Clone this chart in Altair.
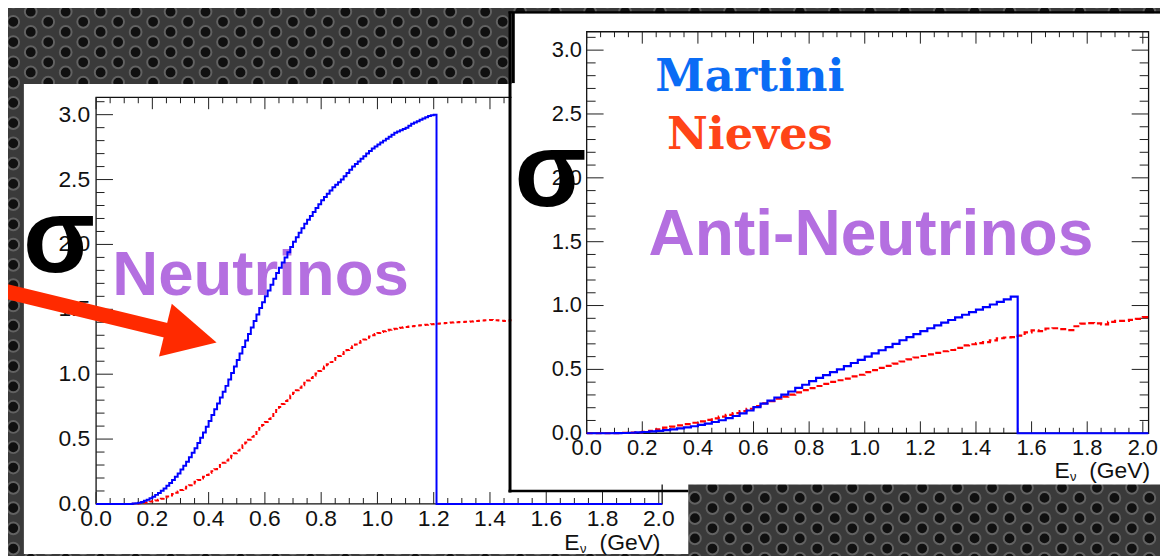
import altair as alt
import pandas as pd

W, H = 1160, 548

# ---------------- data ----------------
LEFT_BIN = 0.01   # GeV, neutrino panel
left_martini = [
    0, 0, 0, 0, 0, 0, 0, 0, 0, 0, 0, 0, 0,
    0.003, 0.006, 0.010, 0.016, 0.024, 0.033, 0.044, 0.056, 0.070, 0.085,
    0.102, 0.120, 0.140, 0.162, 0.185, 0.210, 0.235, 0.265, 0.295, 0.325,
    0.360, 0.395, 0.430, 0.470, 0.510, 0.550, 0.595, 0.640, 0.685, 0.730,
    0.775, 0.820, 0.865, 0.910, 0.960, 1.010, 1.060, 1.110, 1.160, 1.210,
    1.260, 1.310, 1.360, 1.410, 1.460, 1.510, 1.555, 1.600, 1.645, 1.690,
    1.735, 1.780, 1.820, 1.860, 1.900, 1.940, 1.980, 2.020, 2.055, 2.090,
    2.125, 2.160, 2.190, 2.220, 2.250, 2.280, 2.310, 2.340, 2.365, 2.390,
    2.415, 2.440, 2.460, 2.480, 2.500, 2.525, 2.550, 2.575, 2.600, 2.620,
    2.640, 2.660, 2.680, 2.700, 2.720, 2.740, 2.755, 2.770, 2.785, 2.800,
    2.815, 2.830, 2.845, 2.860, 2.870, 2.880, 2.890, 2.900, 2.915, 2.930,
    2.940, 2.950, 2.960, 2.970, 2.980, 2.990, 2.995, 3.000,
]
left_nieves = [
    0, 0, 0, 0, 0, 0, 0, 0, 0, 0, 0, 0, 0,
    0.002, 0.004, 0.006, 0.008, 0.011, 0.014, 0.018, 0.022, 0.027, 0.033,
    0.040, 0.048, 0.057, 0.066, 0.076, 0.086, 0.097, 0.108, 0.120, 0.132,
    0.145, 0.158, 0.171, 0.184, 0.197, 0.210, 0.224, 0.238, 0.253, 0.268,
    0.284, 0.300, 0.317, 0.335, 0.353, 0.372, 0.391, 0.411, 0.431, 0.452,
    0.473, 0.495, 0.517, 0.540, 0.563, 0.586, 0.609, 0.632, 0.655, 0.678,
    0.701, 0.724, 0.747, 0.770, 0.793, 0.815, 0.836, 0.857, 0.877, 0.896,
    0.915, 0.934, 0.952, 0.970, 0.988, 1.006, 1.024, 1.042, 1.059, 1.076,
    1.093, 1.109, 1.125, 1.141, 1.156, 1.171, 1.186, 1.201, 1.215, 1.229,
    1.243, 1.256, 1.268, 1.280, 1.291, 1.301, 1.310, 1.318, 1.325, 1.331,
    1.337, 1.342, 1.347, 1.351, 1.355, 1.358, 1.361, 1.364, 1.367, 1.370,
    1.372, 1.375, 1.377, 1.379, 1.381, 1.383, 1.385, 1.387, 1.389, 1.391,
    1.393, 1.395, 1.397, 1.399, 1.400, 1.401, 1.402, 1.403, 1.404, 1.405,
    1.406, 1.408, 1.410, 1.412, 1.414, 1.416, 1.417, 1.418, 1.417, 1.415,
    1.413, 1.411, 1.410, 1.412, 1.415, 1.418, 1.420,
]
RIGHT_BIN = 0.025  # GeV, anti-neutrino panel
right_martini = [
    0, 0, 0, 0, 0.001, 0.002, 0.004, 0.007, 0.010, 0.014, 0.019, 0.025,
    0.031, 0.038, 0.046, 0.055, 0.065, 0.076, 0.088, 0.102, 0.118, 0.135,
    0.155, 0.178, 0.205, 0.232, 0.256, 0.280, 0.302, 0.327, 0.355, 0.380,
    0.408, 0.433, 0.455, 0.478, 0.500, 0.525, 0.550, 0.575, 0.600, 0.625,
    0.650, 0.675, 0.700, 0.728, 0.752, 0.776, 0.800, 0.822, 0.845, 0.866,
    0.887, 0.908, 0.928, 0.948, 0.968, 0.988, 1.008, 1.028, 1.048, 1.070,
]
right_nieves = [
    0, 0, 0, 0, 0.001, 0.003, 0.005, 0.007, 0.011, 0.018, 0.030, 0.044,
    0.052, 0.062, 0.072, 0.082, 0.093, 0.105, 0.117, 0.130, 0.144, 0.158,
    0.173, 0.192, 0.213, 0.235, 0.252, 0.270, 0.287, 0.303, 0.320, 0.337,
    0.354, 0.370, 0.387, 0.403, 0.415, 0.428, 0.445, 0.458, 0.478, 0.495,
    0.512, 0.528, 0.545, 0.562, 0.578, 0.593, 0.605, 0.617, 0.630, 0.642,
    0.652, 0.668, 0.688, 0.697, 0.705, 0.714, 0.727, 0.744, 0.750, 0.752,
    0.765, 0.790, 0.806, 0.800, 0.820, 0.822, 0.815, 0.808, 0.838, 0.858,
    0.862, 0.860, 0.852, 0.872, 0.880, 0.880, 0.888, 0.895, 0.910,
]

x_major_ticks = [0.0, 0.2, 0.4, 0.6, 0.8, 1.0, 1.2, 1.4, 1.6, 1.8, 2.0]
x_major_labels = ["0.0", "0.2", "0.4", "0.6", "0.8", "1.0", "1.2", "1.4", "1.6", "1.8", "2.0"]
y_major_ticks = [0.0, 0.5, 1.0, 1.5, 2.0, 2.5, 3.0]
y_major_labels = ["0.0", "0.5", "1.0", "1.5", "2.0", "2.5", "3.0"]
x_minor_ticks = [round(0.05 * i, 2) for i in range(41) if i % 4]
y_minor_ticks = [round(0.1 * i, 1) for i in range(32) if i % 5]

TXT_NU = "Neutrinos"
TXT_ANU = "Anti-Neutrinos"
TXT_MARTINI = "Martini"
TXT_NIEVES = "Nieves"
TXT_SIGMA = "σ"

# ---------------- styles ----------------
FONT = "Liberation Sans"
PURPLE = "#b46fe0"
BLUE = "#0000ff"
RED = "#ff0000"
TICK = "#1e1e1e"
ONE = pd.DataFrame({"a": [1]})


def step_df(values, bw, tail):
    rows = [{"E": round(i * bw, 4), "s": v} for i, v in enumerate(values)]
    rows += [{"E": e, "s": s} for e, s in tail]
    return pd.DataFrame(rows)


def deco_rect(x, x2, y, y2, **kw):
    return alt.Chart(ONE).mark_rect(**kw).encode(
        x=alt.value(x), x2=alt.value(x2), y=alt.value(y), y2=alt.value(y2))


def deco_text(text, x, y, **kw):
    return alt.Chart(ONE).mark_text(text=text, **kw).encode(x=alt.value(x), y=alt.value(y))


def xticks(vals, sc, y0, length):
    return alt.Chart(pd.DataFrame({"v": vals})).mark_rule(color=TICK, strokeWidth=1).encode(
        x=alt.X("v:Q", scale=sc, axis=None), y=alt.value(y0), y2=alt.value(y0 + length))


def yticks(vals, sc, x0, length):
    return alt.Chart(pd.DataFrame({"v": vals})).mark_rule(color=TICK, strokeWidth=1).encode(
        y=alt.Y("v:Q", scale=sc, axis=None), x=alt.value(x0), x2=alt.value(x0 + length))


def panel(sc_x, sc_y, frame, tl, fs, xlab_base, ylab_right):
    """frame = (left, right, top, bottom) pixels; tl = (xmaj, xmin, ymaj, ymin) tick lengths"""
    L, R, T, B = frame
    xmaj, xmin, ymaj, ymin = tl
    layers = [
        deco_rect(L, R, T, B, fillOpacity=0, stroke="#111111", strokeWidth=1.3),
        xticks(x_major_ticks, sc_x, B, -xmaj), xticks(x_minor_ticks, sc_x, B, -xmin),
        xticks(x_major_ticks, sc_x, T, xmaj), xticks(x_minor_ticks, sc_x, T, xmin),
        yticks(y_major_ticks, sc_y, L, ymaj), yticks(y_minor_ticks, sc_y, L, ymin),
        yticks(y_major_ticks, sc_y, R, -ymaj), yticks(y_minor_ticks, sc_y, R, -ymin),
    ]
    xl = alt.Chart(pd.DataFrame({"v": x_major_ticks, "lab": x_major_labels})).mark_text(
        font=FONT, fontSize=fs, color="#111111", align="center", baseline="alphabetic").encode(
        x=alt.X("v:Q", scale=sc_x, axis=None), y=alt.value(xlab_base), text="lab:N")
    yl = alt.Chart(pd.DataFrame({"v": y_major_ticks, "lab": y_major_labels})).mark_text(
        font=FONT, fontSize=fs, color="#111111", align="right", baseline="middle").encode(
        y=alt.Y("v:Q", scale=sc_y, axis=None), x=alt.value(ylab_right), text="lab:N")
    return layers, [xl, yl]


def hist_line(df, sc_x, sc_y, color, width, dash=None):
    kw = dict(interpolate="step-after", color=color, strokeWidth=width, strokeCap="butt")
    if dash:
        kw["strokeDash"] = dash
    return alt.Chart(df).mark_line(**kw).encode(
        x=alt.X("E:Q", scale=sc_x, axis=None), y=alt.Y("s:Q", scale=sc_y, axis=None))


# ---------------- background texture (speaker grille) ----------------
pts = []
for k in range(-1, 68):
    off = 10.2 if k % 2 else 0.0
    for j in range(-1, 29):
        pts.append({"px": 13.3 + 17.6 * k - 8, "py": 20 + 20.4 * j - off - 8})
PX = alt.Scale(domain=[0, W], range=[0, W], nice=False, zero=False)
PY = alt.Scale(domain=[0, H], range=[0, H], nice=False, zero=False)
texture = alt.Chart(pd.DataFrame(pts)).mark_circle(
    size=140, fill="#101010", stroke="#626262", strokeWidth=2, opacity=1).encode(
    x=alt.X("px:Q", scale=PX, axis=None), y=alt.Y("py:Q", scale=PY, axis=None))

# ---------------- left (neutrino) panel ----------------
LX = alt.Scale(domain=[0, 2.012], range=[88.7, 658.7], nice=False, zero=False)
LY = alt.Scale(domain=[0, 3.134], range=[497.5, 88], nice=False, zero=False)
l_axes, l_labels = panel(LX, LY, (88.7, 658.7, 88, 497.5), (12, 6, 17, 8.5), 23, 520, 82.7)
left = alt.layer(
    deco_rect(16, 685, 74.7, H, color="white"),
    *l_axes,
    deco_text(TXT_NU, 105, 287, font=FONT, fontSize=64, fontWeight="bold", color=PURPLE,
              align="left", baseline="alphabetic"),
    hist_line(step_df(left_nieves, LEFT_BIN, [(1.50, 1.420)]), LX, LY, RED, 2, [4, 3]),
    hist_line(step_df(left_martini, LEFT_BIN, [(1.21, 0), (2.012, 0)]), LX, LY, BLUE, 2),
    *l_labels,
    deco_text("(GeV)", 657, 543.5, font=FONT, fontSize=23, color="#111111", align="right",
              baseline="alphabetic"),
    deco_text("E", 575.5, 543.5, font=FONT, fontSize=23, color="#111111", align="right",
              baseline="alphabetic"),
    deco_text("ν", 576, 547, font=FONT, fontSize=13, color="#111111", align="left",
              baseline="alphabetic"),
    deco_text(TXT_SIGMA, 15, 264, font=FONT, fontSize=106, fontWeight="bold", color="black",
              align="left", baseline="alphabetic"),
    alt.Chart(ONE).mark_rule(color="#ff2a00", strokeWidth=15, strokeCap="butt").encode(
        x=alt.value(-10), y=alt.value(281.6), x2=alt.value(162), y2=alt.value(323.3)),
    alt.Chart(ONE).mark_point(shape="M 1 0 L -1 -1.03 L -1 1.03 Z", size=2809, filled=True,
                              fill="#ff2a00", strokeWidth=0, opacity=1, angle=13.6).encode(
        x=alt.value(184.25), y=alt.value(328.75)),
)

# ---------------- right (anti-neutrino) panel ----------------
RX = alt.Scale(domain=[0, 2.02], range=[582.7, 1148.3], nice=False, zero=False)
RY = alt.Scale(domain=[0, 3.144], range=[426.3, 22], nice=False, zero=False)
r_axes, r_labels = panel(RX, RY, (582.7, 1148.5, 22, 426.3), (12, 5.5, 17, 9), 22, 448.5, 578)
right = alt.layer(
    deco_rect(507, W, 3.5, 478, color="white"),
    deco_rect(507, 510.3, 2, 73.7, color="black"),
    alt.Chart(ONE).mark_rule(color="black", strokeWidth=3).encode(
        x=alt.value(505.5), y=alt.value(1.5), y2=alt.value(486)),
    alt.Chart(ONE).mark_rule(color="black", strokeWidth=2.5).encode(
        y=alt.value(2.5), x=alt.value(504), x2=alt.value(W)),
    alt.Chart(ONE).mark_rule(color="black", strokeWidth=2.5).encode(
        y=alt.value(484.5), x=alt.value(504), x2=alt.value(685)),
    *r_axes,
    deco_text(TXT_MARTINI, 747, 82, font="DejaVu Serif", fontSize=45, fontWeight="bold",
              color="#0a6cf5", align="center", baseline="alphabetic"),
    deco_text(TXT_NIEVES, 747, 140.3, font="DejaVu Serif", fontSize=45, fontWeight="bold",
              color="#ff4417", align="center", baseline="alphabetic"),
    deco_text(TXT_ANU, 645, 247, font=FONT, fontSize=64.5, fontWeight="bold", color=PURPLE,
              align="left", baseline="alphabetic"),
    hist_line(step_df(right_nieves, RIGHT_BIN, [(2.02, 0.910)]), RX, RY, RED, 2.2, [6, 3]),
    hist_line(step_df(right_martini, RIGHT_BIN, [(1.55, 0), (2.02, 0)]), RX, RY, BLUE, 2.2),
    *r_labels,
    deco_text("(GeV)", 1150, 471, font=FONT, fontSize=23, color="#111111", align="right",
              baseline="alphabetic"),
    deco_text("E", 1069, 471, font=FONT, fontSize=23, color="#111111", align="right",
              baseline="alphabetic"),
    deco_text("ν", 1069.5, 474.5, font=FONT, fontSize=13, color="#111111", align="left",
              baseline="alphabetic"),
    deco_text(TXT_SIGMA, 510, 197, font=FONT, fontSize=106, fontWeight="bold", color="black",
              align="left", baseline="alphabetic"),
)

chart = alt.layer(texture, left, right).resolve_scale(
    x="independent", y="independent"
).properties(
    width=W, height=H, padding=0, autosize=alt.AutoSizeParams(type="none")
).configure(background="#3a3a3a").configure_view(strokeWidth=0)

chart.save("out.html", embed_options={"renderer": "svg", "actions": False})
